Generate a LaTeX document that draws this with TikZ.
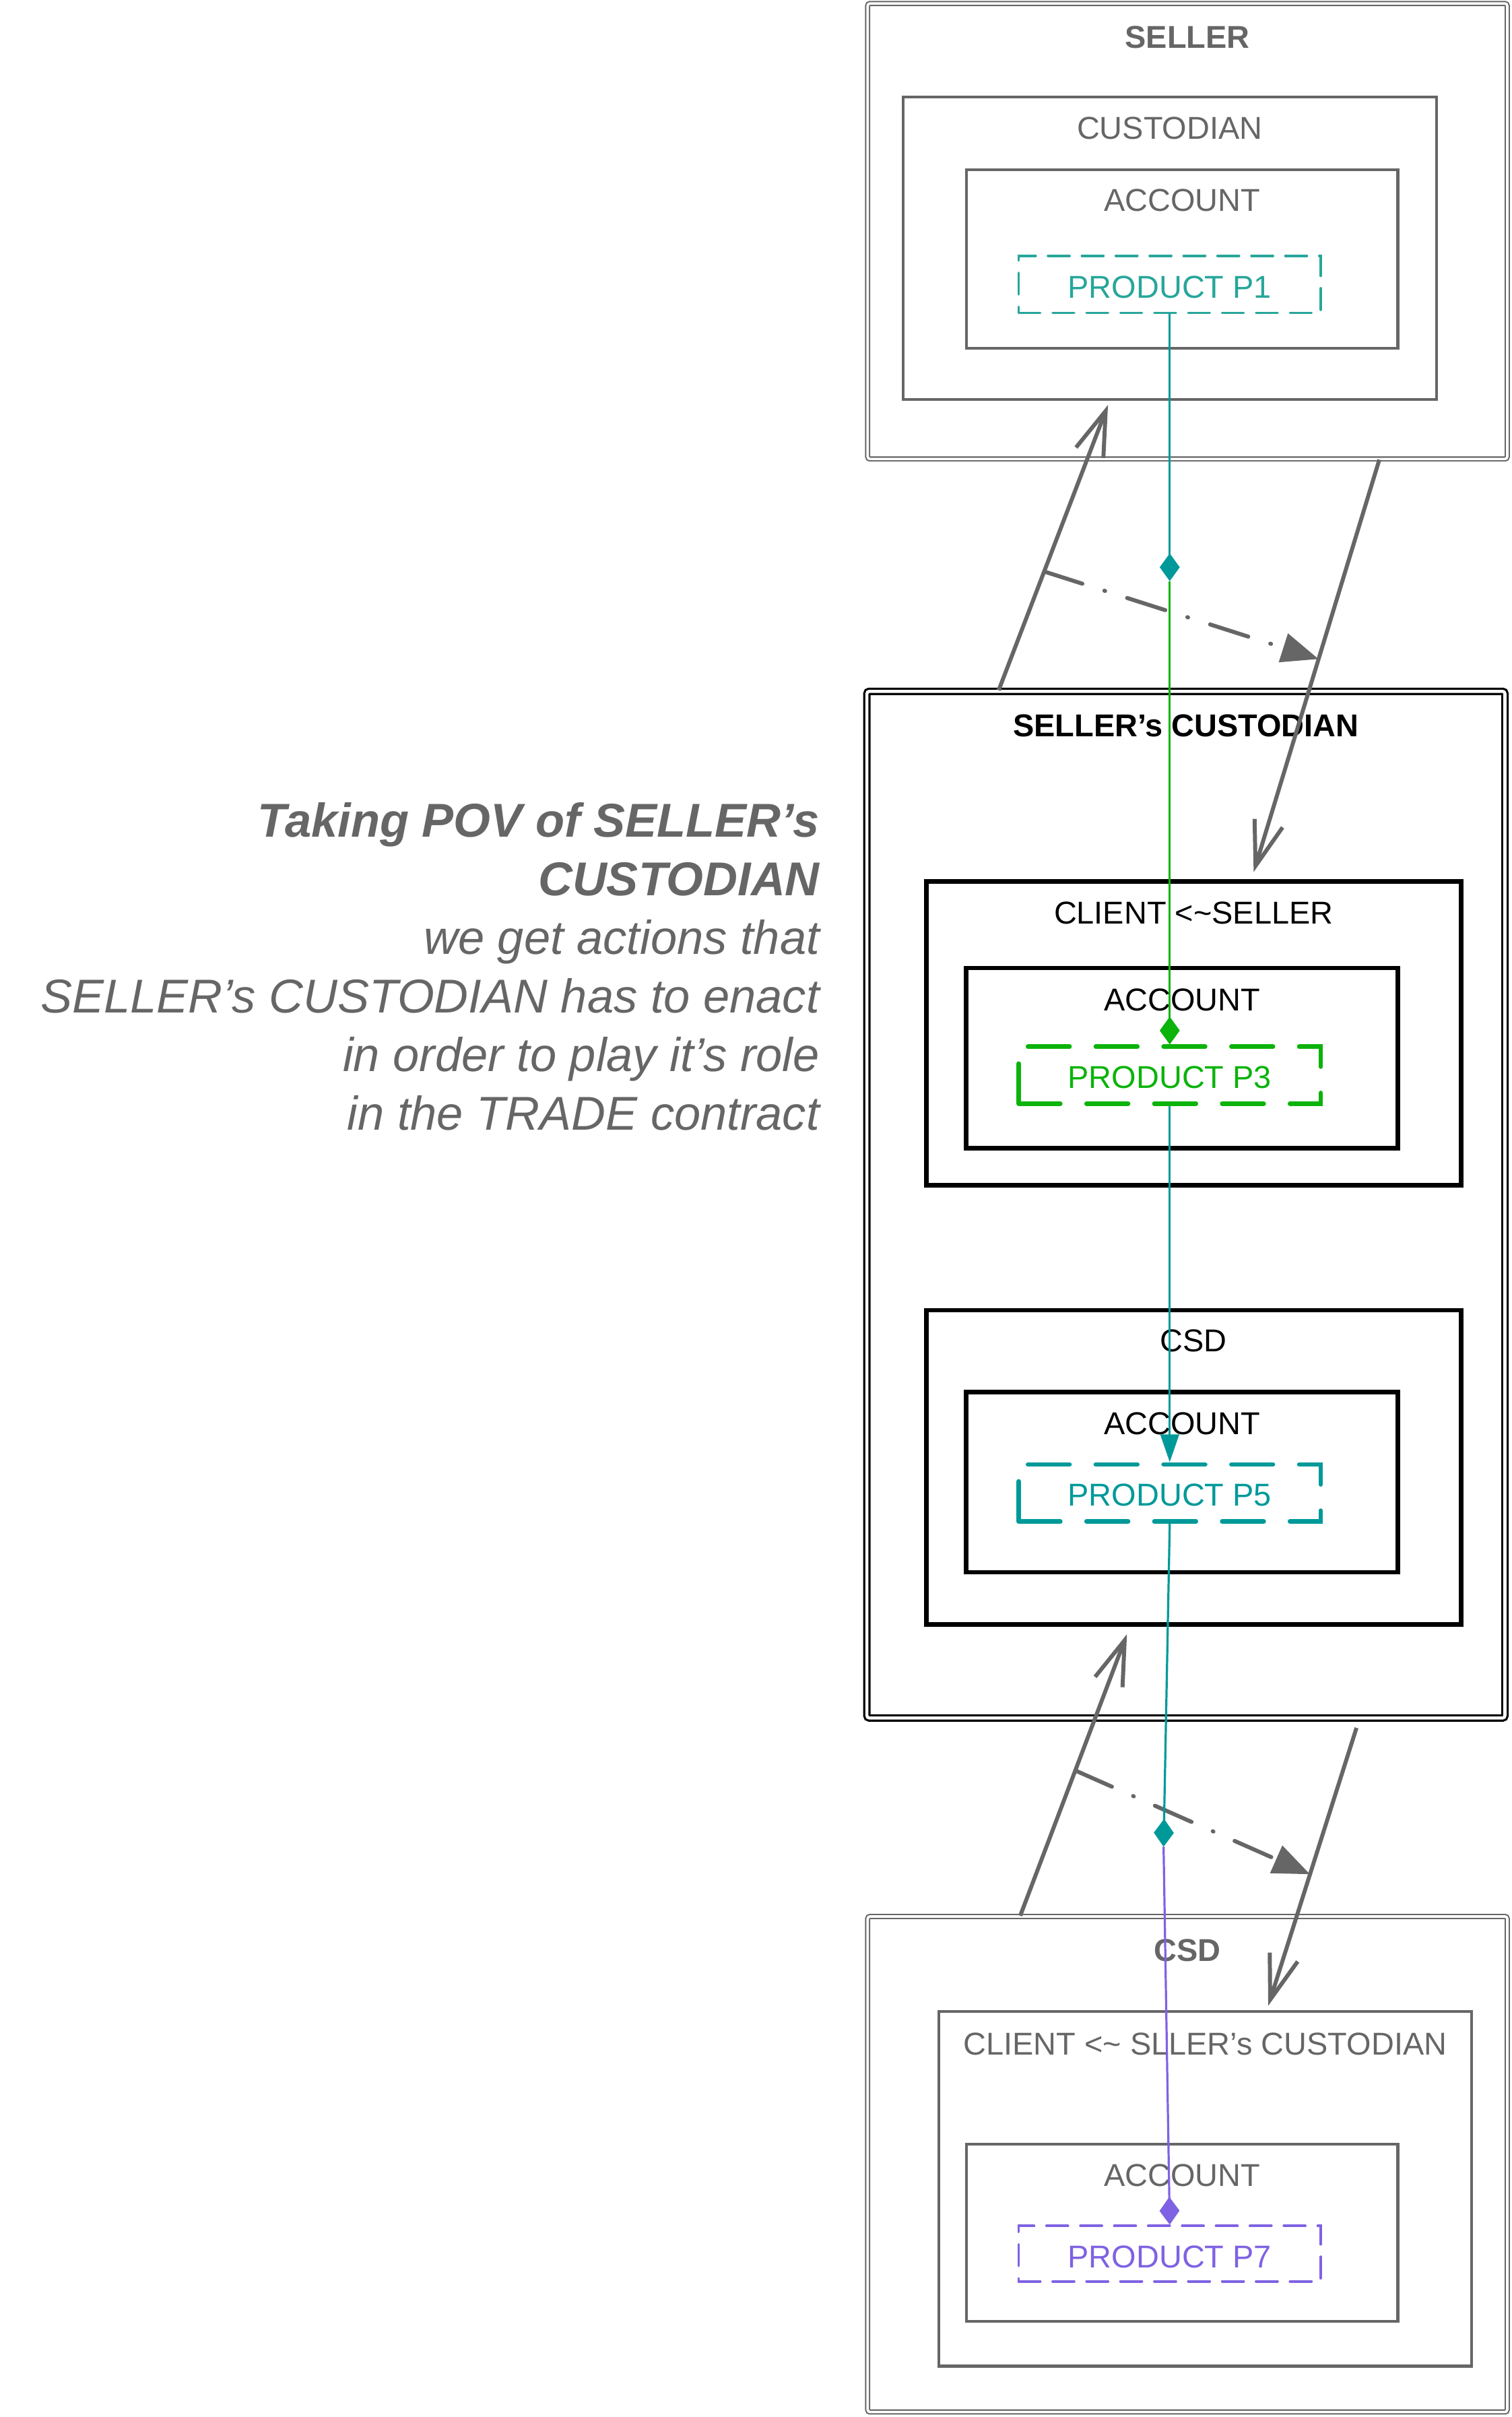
\documentclass[tikz,border=0pt]{standalone}
\usepackage{fontspec}
\setmainfont{Liberation Sans}
\usetikzlibrary{positioning,arrows.meta}
\definecolor{gray6}{HTML}{666666}
\definecolor{tealp}{HTML}{27A69A}
\definecolor{tealc}{HTML}{009999}
\definecolor{greenp}{HTML}{0BB30B}
\definecolor{purplep}{HTML}{7F62E3}

\begin{document}
\begin{tikzpicture}[
    x=1pt, y=-1pt,
    every node/.style={font=\fontsize{20.5}{24}\selectfont, inner sep=0pt},
    party/.style={draw=gray6, double, line width=0.9pt, double distance=1.6pt, rounded corners=1.5pt},
    viewparty/.style={draw=black, double, line width=1.4pt, double distance=2pt, rounded corners=1.5pt},
    thinbox/.style={draw=gray6, line width=1.8pt},
    thickbox/.style={draw=black, line width=3pt},
    prodthin/.style={line width=1.6pt, line cap=round, dash pattern=on 14pt off 8pt, minimum width=196pt, minimum height=37pt, text height=18pt, text depth=0pt},
    prodthick/.style={line width=2.9pt, line cap=round, dash pattern=on 27pt off 17pt, minimum width=196pt, minimum height=37pt, text height=17pt, text depth=0pt},
    leg/.style={draw=gray6, line width=2.6pt, -{Straight Barb[length=29pt,width=19pt]}},
    flow/.style={draw=gray6, line width=2.6pt, line cap=round, dash pattern=on 26pt off 15pt on 0.5pt off 15pt, -{Triangle[length=24pt,width=19pt]}},
    link/.style={line width=1.4pt},
    dia/.style={-{Diamond[length=18pt,width=13pt]}}
]
\useasboundingbox (0,0) rectangle (981,1568);

% SELLER
\node[party, minimum width=415pt, minimum height=295.5pt] (seller) at (770.5,150) {};
\node[thinbox, minimum width=346pt, minimum height=196pt] (cust) at (759,161) {};
\node[thinbox, minimum width=280pt, minimum height=116pt] (acc1) at (767,168) {};
\node[prodthin, draw=tealp, text=tealp] (p1) at (759,184.5) {PRODUCT P1};
\node[text=gray6, below=14.9pt of seller.north] (sellerlbl) {\bfseries SELLER};
\node[text=gray6, below=13.5pt of cust.north] (custlbl) {CUSTODIAN};
\node[text=gray6, below=13.5pt of acc1.north] (acc1lbl) {ACCOUNT};

% SELLER's CUSTODIAN
\node[viewparty, minimum width=414pt, minimum height=666pt] (sc) at (769.5,781.5) {};
\node[thickbox, minimum width=347pt, minimum height=197pt] (client) at (774.5,670.5) {};
\node[thickbox, minimum width=280pt, minimum height=117pt] (acc3) at (767,686.5) {};
\node[prodthick, draw=greenp, text=greenp] (p3) at (759,697.5) {PRODUCT P3};
\node[thickbox, minimum width=347pt, minimum height=204pt] (csdin) at (774.5,952) {};
\node[thickbox, minimum width=280pt, minimum height=117pt] (acc5) at (767,961.5) {};
\node[prodthick, draw=tealc, text=tealc] (p5) at (759,968.5) {PRODUCT P5};
\node[below=15.5pt of sc.north] (sclbl) {\bfseries SELLER’s CUSTODIAN};
\node[below=14.5pt of client.north] (clientlbl) {CLIENT <\textasciitilde SELLER};
\node[below=14.5pt of acc3.north] (acc3lbl) {ACCOUNT};
\node[below=13.7pt of csdin.north] (csdinlbl) {CSD};
\node[below=14.5pt of acc5.north] (acc5lbl) {ACCOUNT};

% CSD
\node[party, minimum width=415pt, minimum height=321.5pt] (csd) at (770.5,1404) {};
\node[thinbox, minimum width=346pt, minimum height=230pt] (client2) at (782,1420) {};
\node[thinbox, minimum width=280pt, minimum height=115pt] (acc7) at (767,1448.5) {};
\node[prodthin, draw=purplep, text=purplep, minimum height=36pt] (p7) at (759,1462) {PRODUCT P7};
\node[text=gray6, below=14.9pt of csd.north] (csdlbl) {\bfseries CSD};
\node[text=gray6, below=14.5pt of client2.north] (client2lbl) {CLIENT <\textasciitilde{} SLLER’s CUSTODIAN};
\node[text=gray6, below=13.5pt of acc7.north] (acc7lbl) {ACCOUNT};

% point of view
\node[text=gray6, align=right, anchor=east, font=\fontsize{30.8}{38}\selectfont\itshape] (pov) at (532,627)
{{\bfseries Taking POV of SELLER’s}\\
 {\bfseries CUSTODIAN}\\
 we get actions that\\
 SELLER’s CUSTODIAN has to enact\\
 in order to play it’s role\\
 in the TRADE contract};

% legs between parties
\draw[leg, shorten >=3pt] (648,0 |- sc.north) -- coordinate[pos=0.41] (a1m) (720,0 |- cust.south);
\draw[leg, shorten >=5pt] (895,0 |- seller.south) -- coordinate[pos=0.475] (a2m) (812,0 |- client.north);
\draw[flow] (a1m) -- (a2m);
\draw[leg, shorten >=5pt] (662,0 |- csd.north) -- coordinate[pos=0.503] (a3m) (733,0 |- csdin.south);
\draw[leg, shorten <=6pt, shorten >=3pt] (882,0 |- sc.south) -- coordinate[pos=0.533] (a4m) (822,0 |- client2.north);
\draw[flow] (a3m) -- (a4m);

% product links
\coordinate (m1) at (759,377);
\coordinate (m2) at (755,1198);
\draw[link, dia, draw=tealc] (p1.south) -- (m1);
\draw[link, dia, draw=greenp] (m1) -- (p3.north);
\draw[link, draw=tealc, -{Triangle[length=18pt,width=12pt]}] (p3.south) -- (p5.north);
\draw[link, dia, draw=tealc] (p5.south) -- (m2);
\draw[link, dia, draw=purplep] (m2) -- (p7.north);

\end{tikzpicture}
\end{document}
